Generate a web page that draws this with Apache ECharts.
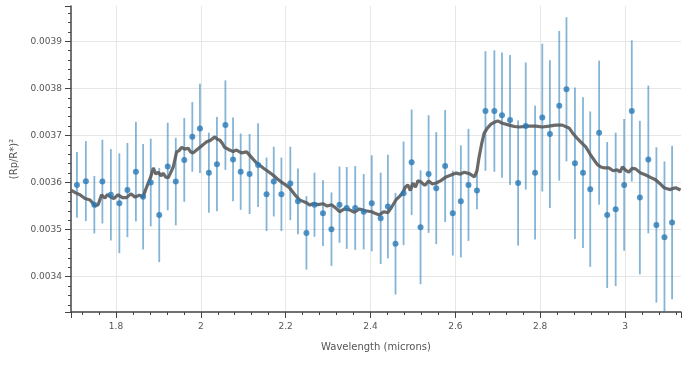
<!DOCTYPE html>
<html>
<head>
<meta charset="utf-8">
<script src="https://cdn.jsdelivr.net/npm/echarts@6/dist/echarts.min.js"></script>
<style>
  html, body { margin: 0; padding: 0; background: #fff; }
  #chart { width: 683px; height: 368px; }
</style>
</head>
<body>
<div id="chart"></div>
<script>
// observed spectrum (microns, transit depth, 1-sigma)
const wavelength = [1.708, 1.729, 1.749, 1.768, 1.788, 1.808, 1.827, 1.847, 1.864, 1.882,
  1.902, 1.922, 1.941, 1.961, 1.980, 1.998, 2.019, 2.038, 2.058, 2.076,
  2.094, 2.115, 2.135, 2.155, 2.172, 2.190, 2.211, 2.229, 2.249, 2.268,
  2.288, 2.308, 2.327, 2.344, 2.364, 2.384, 2.403, 2.424, 2.441, 2.459,
  2.478, 2.497, 2.518, 2.537, 2.555, 2.576, 2.594, 2.613, 2.631, 2.651,
  2.671, 2.692, 2.710, 2.729, 2.748, 2.766, 2.788, 2.805, 2.823, 2.845,
  2.862, 2.882, 2.901, 2.918, 2.939, 2.958, 2.978, 2.998, 3.016, 3.035,
  3.055, 3.074, 3.093, 3.111];
const depth = [0.003595, 0.003603, 0.003553, 0.003602, 0.003574, 0.003556, 0.003584, 0.003623, 0.003570, 0.003600,
  0.003531, 0.003634, 0.003602, 0.003648, 0.003697, 0.003715, 0.003621, 0.003639, 0.003722, 0.003649,
  0.003623, 0.003618, 0.003637, 0.003575, 0.003602, 0.003575, 0.003598, 0.003560, 0.003493, 0.003553,
  0.003535, 0.003501, 0.003553, 0.003546, 0.003546, 0.003538, 0.003556, 0.003524, 0.003549, 0.003470,
  0.003577, 0.003643, 0.003505, 0.003618, 0.003588, 0.003635, 0.003535, 0.003560, 0.003595, 0.003583,
  0.003752, 0.003752, 0.003743, 0.003733, 0.003599, 0.003720, 0.003621, 0.003738, 0.003703, 0.003763,
  0.003798, 0.003641, 0.003621, 0.003586, 0.003706, 0.003531, 0.003543, 0.003595, 0.003752, 0.003568,
  0.003649, 0.003510, 0.003484, 0.003515];
const depthErr = [0.000070, 0.000085, 0.000061, 0.000089, 0.000097, 0.000106, 0.000100, 0.000106, 0.000112, 0.000093,
  0.000100, 0.000093, 0.000093, 0.000089, 0.000074, 0.000095, 0.000085, 0.000100, 0.000095, 0.000089,
  0.000081, 0.000085, 0.000089, 0.000078, 0.000074, 0.000078, 0.000078, 0.000070, 0.000078, 0.000068,
  0.000070, 0.000078, 0.000081, 0.000087, 0.000089, 0.000080, 0.000102, 0.000097, 0.000110, 0.000108,
  0.000110, 0.000112, 0.000121, 0.000125, 0.000119, 0.000119, 0.000090, 0.000119, 0.000119, 0.000040,
  0.000127, 0.000129, 0.000133, 0.000138, 0.000133, 0.000135, 0.000142, 0.000157, 0.000157, 0.000159,
  0.000153, 0.000161, 0.000160, 0.000165, 0.000153, 0.000155, 0.000163, 0.000140, 0.000150, 0.000163,
  0.000157, 0.000165, 0.000161, 0.000163];

// binned model curve
const modelWave = [1.694, 1.705, 1.715, 1.727, 1.739, 1.751, 1.758, 1.766, 1.774, 1.780,
  1.786, 1.795, 1.805, 1.815, 1.825, 1.835, 1.845, 1.855, 1.864, 1.870,
  1.876, 1.882, 1.888, 1.894, 1.900, 1.906, 1.911, 1.917, 1.923, 1.929,
  1.935, 1.943, 1.949, 1.955, 1.962, 1.970, 1.976, 1.982, 1.990, 1.998,
  2.005, 2.013, 2.023, 2.033, 2.039, 2.045, 2.051, 2.056, 2.062, 2.068,
  2.076, 2.084, 2.096, 2.108, 2.119, 2.131, 2.139, 2.147, 2.158, 2.170,
  2.180, 2.190, 2.200, 2.209, 2.221, 2.233, 2.241, 2.249, 2.257, 2.264,
  2.276, 2.288, 2.298, 2.308, 2.318, 2.327, 2.339, 2.351, 2.362, 2.374,
  2.388, 2.403, 2.412, 2.421, 2.431, 2.441, 2.450, 2.460, 2.468, 2.476,
  2.482, 2.488, 2.494, 2.500, 2.506, 2.512, 2.519, 2.528, 2.537, 2.546,
  2.555, 2.566, 2.578, 2.590, 2.602, 2.612, 2.621, 2.633, 2.645, 2.651,
  2.656, 2.662, 2.668, 2.676, 2.684, 2.692, 2.700, 2.711, 2.727, 2.739,
  2.751, 2.770, 2.790, 2.805, 2.821, 2.836, 2.852, 2.868, 2.876, 2.884,
  2.896, 2.908, 2.918, 2.927, 2.935, 2.943, 2.952, 2.962, 2.972, 2.982,
  2.988, 2.994, 3.002, 3.009, 3.017, 3.025, 3.037, 3.049, 3.060, 3.072,
  3.082, 3.092, 3.105, 3.119, 3.131];
const modelDepth = [0.003584, 0.003578, 0.003574, 0.003566, 0.003563, 0.003550, 0.003553, 0.003574, 0.003567, 0.003575,
  0.003570, 0.003566, 0.003574, 0.003568, 0.003568, 0.003576, 0.003569, 0.003573, 0.003570, 0.003585,
  0.003599, 0.003612, 0.003631, 0.003618, 0.003622, 0.003614, 0.003620, 0.003612, 0.003610, 0.003621,
  0.003633, 0.003665, 0.003668, 0.003675, 0.003671, 0.003673, 0.003665, 0.003663, 0.003669, 0.003675,
  0.003680, 0.003686, 0.003690, 0.003697, 0.003692, 0.003690, 0.003683, 0.003675, 0.003672, 0.003669,
  0.003666, 0.003669, 0.003663, 0.003665, 0.003654, 0.003642, 0.003637, 0.003631, 0.003624, 0.003616,
  0.003608, 0.003601, 0.003595, 0.003589, 0.003575, 0.003563, 0.003560, 0.003557, 0.003552, 0.003555,
  0.003553, 0.003555, 0.003550, 0.003553, 0.003546, 0.003538, 0.003544, 0.003542, 0.003537, 0.003544,
  0.003540, 0.003538, 0.003534, 0.003531, 0.003538, 0.003536, 0.003548, 0.003563, 0.003570, 0.003578,
  0.003590, 0.003595, 0.003583, 0.003599, 0.003590, 0.003604, 0.003601, 0.003594, 0.003603, 0.003597,
  0.003599, 0.003604, 0.003612, 0.003616, 0.003620, 0.003618, 0.003622, 0.003619, 0.003612, 0.003625,
  0.003654, 0.003682, 0.003705, 0.003716, 0.003724, 0.003728, 0.003731, 0.003726, 0.003722, 0.003719,
  0.003718, 0.003720, 0.003720, 0.003718, 0.003720, 0.003722, 0.003722, 0.003716, 0.003706, 0.003697,
  0.003686, 0.003675, 0.003660, 0.003648, 0.003638, 0.003633, 0.003631, 0.003631, 0.003625, 0.003627,
  0.003622, 0.003633, 0.003626, 0.003622, 0.003630, 0.003629, 0.003620, 0.003616, 0.003611, 0.003606,
  0.003598, 0.003589, 0.003585, 0.003589, 0.003584];

const chart = echarts.init(document.getElementById('chart'));

const errData = wavelength.map((w, i) => [w, depth[i] - depthErr[i], depth[i] + depthErr[i]]);
const pointData = wavelength.map((w, i) => [w, depth[i]]);
const modelData = modelWave.map((w, i) => [w, modelDepth[i]]);

const axisText = { color: '#555', fontSize: 9, fontFamily: 'DejaVu Sans' };

const option = {
  animation: false,
  grid: { left: 71, right: 2, top: 6, bottom: 56 },
  xAxis: {
    type: 'value',
    min: 1.694,
    max: 3.132,
    splitNumber: 7,
    name: 'Wavelength (microns)',
    nameLocation: 'middle',
    nameGap: 30,
    nameTextStyle: { color: '#555', fontSize: 10, fontFamily: 'DejaVu Sans' },
    axisLine: { lineStyle: { color: '#444', width: 1.5 } },
    axisTick: { length: 6, lineStyle: { color: '#444' } },
    minorTick: { show: true, splitNumber: 5, length: 3, lineStyle: { color: '#444' } },
    axisLabel: Object.assign({ showMinLabel: false, showMaxLabel: false, margin: 10 }, axisText),
    splitLine: { show: true, showMinLine: false, showMaxLine: false, lineStyle: { color: '#e6e6e6' } }
  },
  yAxis: {
    type: 'value',
    min: 0.003325,
    max: 0.003975,
    splitNumber: 6,
    name: '(Rp/R*)²',
    nameLocation: 'middle',
    nameGap: 47,
    nameTextStyle: { color: '#555', fontSize: 10, fontFamily: 'DejaVu Sans' },
    axisLine: { show: true, lineStyle: { color: '#444', width: 1.5 } },
    axisTick: { show: true, length: 6, lineStyle: { color: '#444' } },
    minorTick: { show: true, splitNumber: 5, length: 3, lineStyle: { color: '#444' } },
    axisLabel: Object.assign({ showMinLabel: false, showMaxLabel: false, margin: 9 }, axisText),
    splitLine: { show: true, showMinLine: false, showMaxLine: false, lineStyle: { color: '#e6e6e6' } }
  },
  series: [
    {
      type: 'custom',
      data: errData,
      z: 2,
      renderItem: function (params, api) {
        const lo = api.coord([api.value(0), api.value(1)]);
        const hi = api.coord([api.value(0), api.value(2)]);
        return {
          type: 'line',
          shape: { x1: lo[0], y1: lo[1], x2: hi[0], y2: hi[1] },
          style: { stroke: 'rgba(31,119,180,0.55)', lineWidth: 1.8 }
        };
      }
    },
    {
      type: 'line',
      data: modelData,
      z: 3,
      symbol: 'none',
      lineStyle: { color: 'rgba(90,90,90,0.9)', width: 3.2 }
    },
    {
      type: 'scatter',
      data: pointData,
      z: 4,
      symbolSize: 6,
      itemStyle: { color: '#2a7ab8' }
    }
  ]
};

chart.setOption(option);
</script>
</body>
</html>
